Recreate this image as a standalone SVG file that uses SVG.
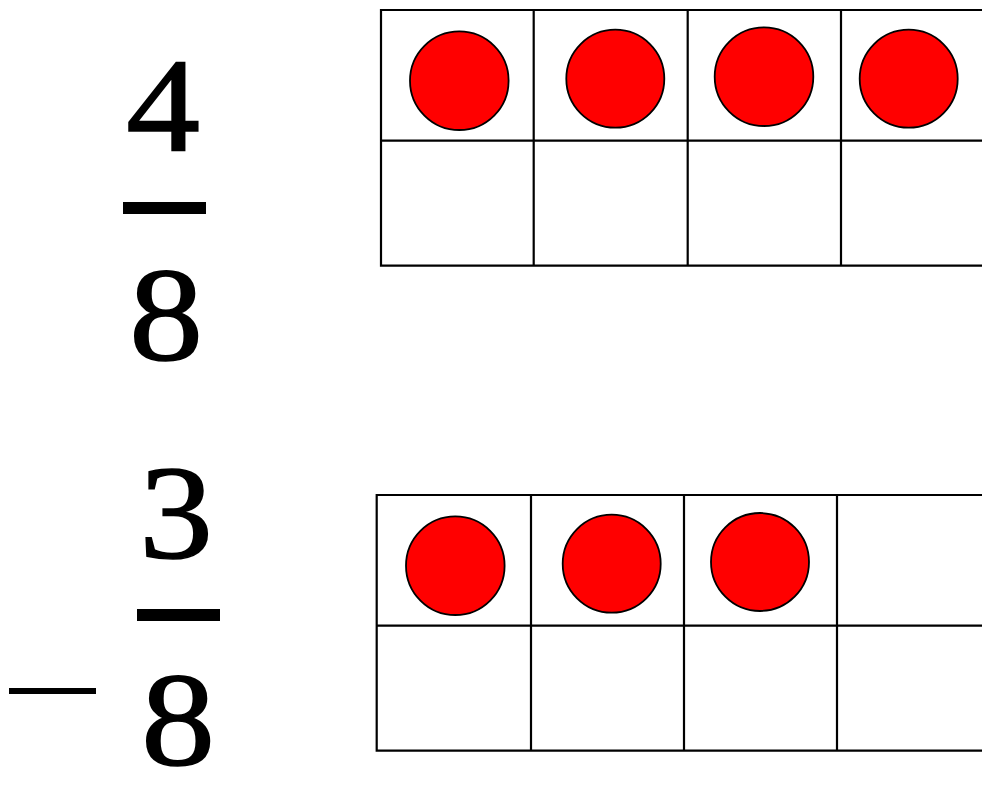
<svg xmlns="http://www.w3.org/2000/svg" width="982" height="793" viewBox="0 0 982 793">
<style>
.num{font-family:"Liberation Serif","Times New Roman",serif;font-size:134px;fill:#000;stroke:#000;stroke-width:1.6;text-anchor:middle}
.grid{fill:none;stroke:#000;stroke-width:2.2}
.dot{fill:#ff0000;stroke:#000;stroke-width:1.8}
</style>
<rect width="982" height="793" fill="#fff"/>
<g id="fraction1">
<text class="num" transform="translate(163 150) scale(1.1 1)">4</text>
<rect x="123" y="202" width="83" height="12" fill="#000"/>
<text class="num" transform="translate(166 360) scale(1.1 1)">8</text>
</g>
<g id="fraction2">
<text class="num" transform="translate(176 558) scale(1.1 1)">3</text>
<rect x="137" y="609" width="83" height="12" fill="#000"/>
<text class="num" transform="translate(178 765) scale(1.1 1)">8</text>
<rect x="9" y="688" width="87" height="6" fill="#000"/>
</g>
<g id="frame1">
<path class="grid" d="M982 10H381V265.7H982M381 140.7H982M533.7 10V265.7M687.7 10V265.7M841 10V265.7"/>
<circle class="dot" cx="459.3" cy="80.7" r="49.3"/>
<circle class="dot" cx="615.3" cy="78.7" r="49"/>
<circle class="dot" cx="764" cy="76.7" r="49.3"/>
<circle class="dot" cx="908.7" cy="78.7" r="49"/>
</g>
<g id="frame2">
<path class="grid" d="M982 495H376.7V750.7H982M376.7 625.7H982M531 495V750.7M684 495V750.7M837 495V750.7"/>
<circle class="dot" cx="455.3" cy="565.7" r="49.3"/>
<circle class="dot" cx="611.7" cy="563.7" r="49"/>
<circle class="dot" cx="760" cy="562" r="49"/>
</g>
</svg>
